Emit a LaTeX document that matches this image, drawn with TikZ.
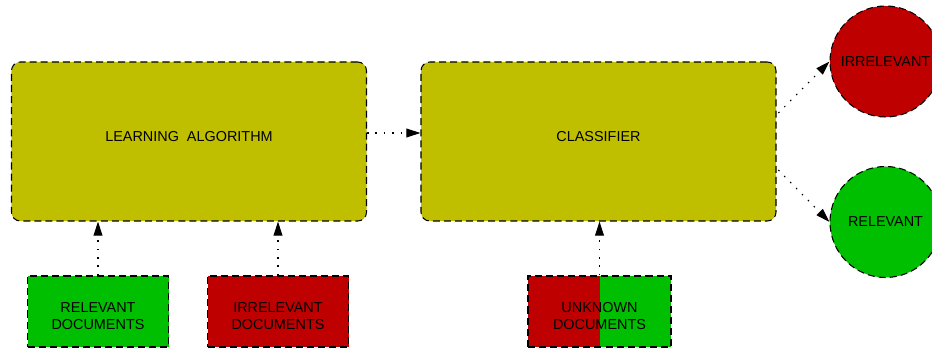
\documentclass[tikz,border=0pt]{standalone}
\usepackage{fontspec}
\setmainfont{Liberation Sans}
\usepackage{tikz}
\usetikzlibrary{shapes,positioning,arrows.meta}
\definecolor{olive}{HTML}{BFBF00}
\definecolor{bad}{HTML}{BF0000}
\definecolor{good}{HTML}{00BF00}
\tikzset{blk/.style={rectangle,rounded corners=5pt,draw,fill=olive,line width=0.6pt,dash pattern=on 4pt off 2.3pt,minimum width=7.1cm,minimum height=3.18cm,text height=6pt,text depth=5.7pt},
         doc/.style={rectangle,draw,line width=0.6pt,dash pattern=on 4pt off 2.3pt,minimum width=2.82cm,minimum height=1.42cm,align=center,text height=20.8pt,text depth=0pt},
         res/.style={circle,draw,line width=0.6pt,dash pattern=on 4pt off 2.3pt,minimum size=2.22cm,inner sep=0pt},
         flow/.style={-{Triangle[length=8pt,width=5pt]},line width=0.6pt,dash pattern=on 0.9pt off 3.9pt}}

\begin{document}
\begin{tikzpicture}[font=\fontsize{8.2}{9.8}\selectfont]
    \useasboundingbox (0,0) rectangle (18.64,7.04);
    \node[blk] (learn) at (3.78,4.21) {LEARNING\ \ ALGORITHM};
    \node[blk] (classif) at (11.97,4.21) {CLASSIFIER};
    \node[res,fill=bad] (irrel) at (17.71,5.81) {IRRELEVANT};
    \node[res,fill=good] (rel) at (17.71,2.60) {RELEVANT};

    \node[doc,fill=good] (reldocs) at (1.96,0.81) {RELEVANT\\DOCUMENTS};
    \node[doc,fill=bad] (irreldocs) at (5.56,0.81) {IRRELEVANT\\DOCUMENTS};
    % two coloured halves under the dashed frame
    \node[doc,minimum width=2.86cm,
          path picture={\fill[bad] (path picture bounding box.south west) rectangle (path picture bounding box.north);
                        \fill[good] (path picture bounding box.south) rectangle (path picture bounding box.north east);}]
          (unkdocs) at (11.99,0.81) {UNKNOWN\\DOCUMENTS};

    \draw [flow] (reldocs) to (reldocs |- learn.south);
    \draw [flow] (irreldocs) to (irreldocs |- learn.south);
    \draw [flow] (unkdocs) to (unkdocs |- classif.south);
    \draw [flow] ([yshift=0.17cm]learn.east) to ([yshift=0.17cm]classif.west);
    \draw [flow] ([xshift=1pt,yshift=0.57cm]classif.east) to (irrel.west);
    \draw [flow] ([xshift=1pt,yshift=-0.57cm]classif.east) to (rel.west);
\end{tikzpicture}
\end{document}
